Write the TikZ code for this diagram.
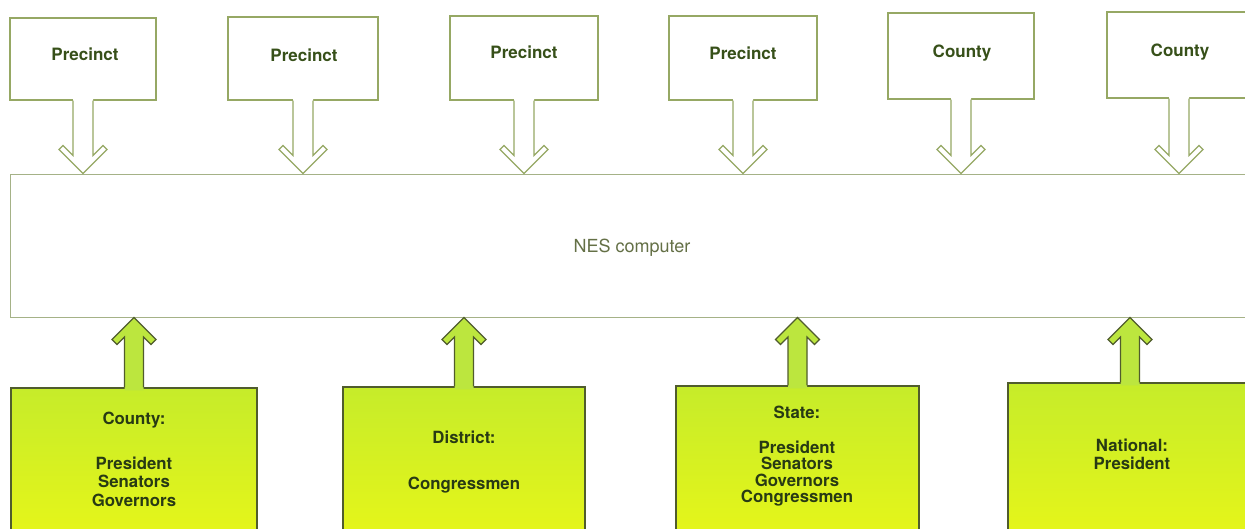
\documentclass[tikz,border=0pt]{standalone}
\usepackage{fontspec}
\setmainfont{TeX Gyre Heros}
\usetikzlibrary{calc}
\definecolor{topline}{RGB}{150,168,100}
\definecolor{nesline}{RGB}{165,178,135}
\definecolor{greenline}{RGB}{80,92,45}
\definecolor{greentop}{RGB}{198,236,42}
\definecolor{greenbot}{RGB}{232,246,24}
\definecolor{arrowgreen}{RGB}{188,230,62}
\definecolor{toptext}{RGB}{55,80,25}
\definecolor{bottext}{RGB}{40,58,20}
\definecolor{nestext}{RGB}{100,112,70}
\tikzset{
  topbox/.style={draw=topline, line width=1.2pt, fill=white, inner sep=0pt},
  toplabel/.style={anchor=base, text=toptext, inner sep=0pt, font=\bfseries\fontsize{17}{20}\selectfont},
  nesbox/.style={draw=nesline, line width=1pt, fill=white, inner sep=0pt},
  neslabel/.style={anchor=base, text=nestext, inner sep=0pt, font=\fontsize{18}{21}\selectfont},
  greenbox/.style={draw=greenline, line width=1.1pt, top color=greentop, bottom color=greenbot, inner sep=0pt},
  greenlabel/.style={align=center, text=bottext, inner sep=0pt},
  toparrow/.style={draw=topline, line width=1.2pt},
  botarrow/.style={draw=greenline, line width=1.1pt}
}
\newcommand{\DownArr}[2]{%
  \coordinate (s) at (#1.south);
  \coordinate (t) at (#1.south |- #2.north);
  \fill[white] ($(s)+(-10,-2)$) -- ($(t)+(-10,-18)$) -- ($(t)+(-20,-28)$) -- ($(t)+(-24,-24)$) -- (t) -- ($(t)+(24,-24)$) -- ($(t)+(20,-28)$) -- ($(t)+(10,-18)$) -- ($(s)+(10,-2)$) -- cycle;
  \draw[toparrow] ($(s)+(-10,0)$) -- ($(t)+(-10,-18)$) -- ($(t)+(-20,-28)$) -- ($(t)+(-24,-24)$) -- (t) -- ($(t)+(24,-24)$) -- ($(t)+(20,-28)$) -- ($(t)+(10,-18)$) -- ($(s)+(10,0)$);
}
\newcommand{\UpArr}[2]{%
  \coordinate (s) at (#1.north);
  \coordinate (t) at (#1.north |- #2.south);
  \fill[arrowgreen] ($(s)+(-9.5,3)$) -- ($(t)+(-9.5,19.5)$) -- ($(t)+(-17,27)$) -- ($(t)+(-22,22)$) -- (t) -- ($(t)+(22,22)$) -- ($(t)+(17,27)$) -- ($(t)+(9.5,19.5)$) -- ($(s)+(9.5,3)$) -- cycle;
  \draw[botarrow] ($(s)+(-9.5,0)$) -- ($(t)+(-9.5,19.5)$) -- ($(t)+(-17,27)$) -- ($(t)+(-22,22)$) -- (t) -- ($(t)+(22,22)$) -- ($(t)+(17,27)$) -- ($(t)+(9.5,19.5)$) -- ($(s)+(9.5,0)$);
}
\begin{document}
\begin{tikzpicture}[x=1pt,y=-1pt]
\clip (0,0) rectangle (1245,528);
\fill[white] (0,0) rectangle (1245,528);

% top boxes
\node[topbox, minimum width=146pt, minimum height=82pt] (p1) at (83,59) {};
\node[topbox, minimum width=150pt, minimum height=83pt] (p2) at (303,58.5) {};
\node[topbox, minimum width=148pt, minimum height=84pt] (p3) at (524,58) {};
\node[topbox, minimum width=148pt, minimum height=84pt] (p4) at (743,58) {};
\node[topbox, minimum width=146pt, minimum height=86pt] (p5) at (961,56) {};
\node[topbox, minimum width=144pt, minimum height=86pt] (p6) at (1179,55) {};
\node[toplabel] (p1t) at (85,60) {Precinct};
\node[toplabel] (p2t) at (304,61) {Precinct};
\node[toplabel] (p3t) at (524,58) {Precinct};
\node[toplabel] (p4t) at (743,59) {Precinct};
\node[toplabel] (p5t) at (962,57) {County};
\node[toplabel] (p6t) at (1180,56) {County};

% computer
\node[nesbox, minimum width=1250pt, minimum height=143pt] (nes) at (635,245.5) {};
\node[neslabel] (nest) at (632,252) {NES computer};

% bottom boxes
\node[greenbox, minimum width=246pt, minimum height=160pt] (g1) at (134,468) {};
\node[greenbox, minimum width=242pt, minimum height=161pt] (g2) at (464,467.5) {};
\node[greenbox, minimum width=243pt, minimum height=162pt] (g3) at (797.5,467) {};
\node[greenbox, minimum width=244pt, minimum height=165pt] (g4) at (1130,465.5) {};

\node[greenlabel, font=\bfseries\fontsize{16.8}{18.5}\selectfont] (g1t) at (134,459)
  {County:\\[26.5pt]President\\Senators\\Governors};
\node[greenlabel, font=\bfseries\fontsize{16.8}{18}\selectfont] (g2t) at (464,462)
  {District:\\[28pt]Congressmen};
\node[greenlabel, font=\bfseries\fontsize{16.8}{16.5}\selectfont] (g3t) at (797,456)
  {State:\\[18.5pt]President\\Senators\\Governors\\Congressmen};
\node[greenlabel, font=\bfseries\fontsize{16.8}{18}\selectfont] (g4t) at (1132,454)
  {National:\\President};

% arrows
\DownArr{p1}{nes}
\DownArr{p2}{nes}
\DownArr{p3}{nes}
\DownArr{p4}{nes}
\DownArr{p5}{nes}
\DownArr{p6}{nes}
\UpArr{g1}{nes}
\UpArr{g2}{nes}
\UpArr{g3}{nes}
\UpArr{g4}{nes}
\end{tikzpicture}
\end{document}
